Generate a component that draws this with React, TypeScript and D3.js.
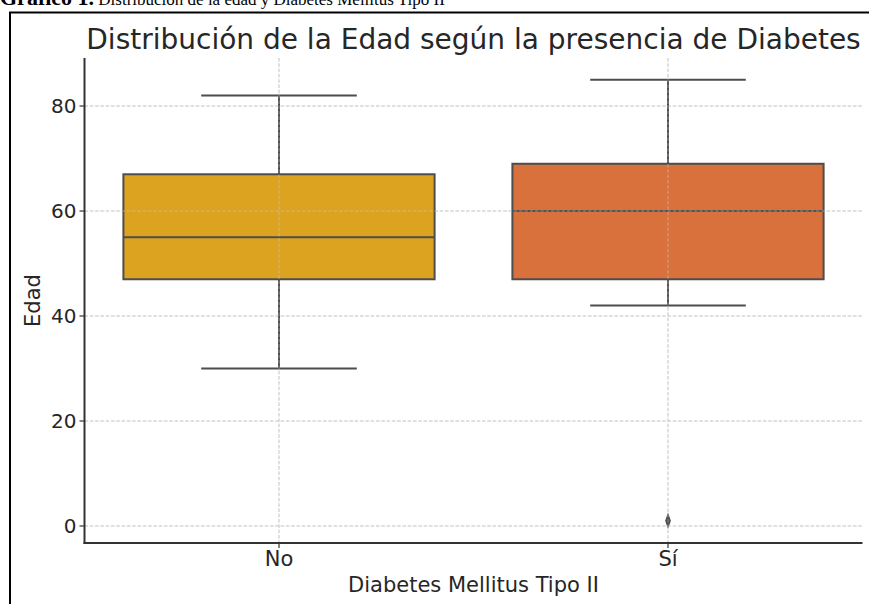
import React from "react";
import * as d3 from "d3";

const categories = ["No", "Sí"];
const whiskerLow = [30, 42];
const q1 = [47, 47];
const median = [55, 60];
const q3 = [67, 69];
const whiskerHigh = [82, 85];
const outliers = [[], [1]];
const boxColors = ["#dca321", "#d8713b"];
const yTicks = [0, 20, 40, 60, 80];

const W = 869;
const H = 604;
const M = { left: 84.5, right: 862.5, top: 58, bottom: 543 };
const LINE = "#4d4d4d";
const FONT = "DejaVu Sans, sans-serif";

export default function App() {
  const x = d3.scaleLinear().domain([-0.5, 1.5]).range([M.left, M.right]);
  const y = d3.scaleLinear().domain([-3.24, 89.15]).range([M.bottom, M.top]);
  const bw = (x(1) - x(0)) * 0.8;
  const cw = bw / 2;
  const diamond = d3.symbol().type(d3.symbolDiamond).size(50)();

  const grid = (k: string, op: number) => (
    <g stroke="#cccccc" strokeWidth={0.9} strokeDasharray="3.5,1.8" opacity={op}>
      {yTicks.map((t) => (
        <line key={k + "y" + t} x1={M.left} x2={M.right} y1={y(t)} y2={y(t)} />
      ))}
      {categories.map((c, i) => (
        <line key={k + "x" + c} x1={x(i)} x2={x(i)} y1={M.top} y2={M.bottom} />
      ))}
    </g>
  );

  return (
    <svg width={W} height={H} style={{ position: "absolute", left: 0, top: 0, background: "#fff" }}>
      <rect x={0} y={0} width={W} height={H} fill="#fff" />
      {/* caption */}
      <text x={0} y={5} fontFamily="Liberation Serif, Times New Roman, serif" fill="#000">
        <tspan fontWeight="bold" fontSize={22}>Gráfico 1.</tspan>
        <tspan fontSize={17}> Distribución de la edad y Diabetes Mellitus Tipo II</tspan>
      </text>
      {/* frame */}
      <path d={`M10,${H + 5} V12.5 H${W + 5}`} fill="none" stroke="#000" strokeWidth={2} />
      {grid("a", 1)}
      {/* boxes */}
      {categories.map((c, i) => (
        <g key={c} stroke={LINE} strokeWidth={2}>
          <line x1={x(i)} x2={x(i)} y1={y(q3[i])} y2={y(whiskerHigh[i])} />
          <line x1={x(i)} x2={x(i)} y1={y(q1[i])} y2={y(whiskerLow[i])} />
          <line x1={x(i) - cw / 2} x2={x(i) + cw / 2} y1={y(whiskerHigh[i])} y2={y(whiskerHigh[i])} />
          <line x1={x(i) - cw / 2} x2={x(i) + cw / 2} y1={y(whiskerLow[i])} y2={y(whiskerLow[i])} />
          <rect
            x={x(i) - bw / 2}
            y={y(q3[i])}
            width={bw}
            height={y(q1[i]) - y(q3[i])}
            fill={boxColors[i]}
          />
          <line x1={x(i) - bw / 2} x2={x(i) + bw / 2} y1={y(median[i])} y2={y(median[i])} />
          {outliers[i].map((o, k) => (
            <path
              key={k}
              d={diamond || ""}
              transform={`translate(${x(i)},${y(o)}) scale(0.75,1.25)`}
              fill={LINE}
              stroke="none"
            />
          ))}
        </g>
      ))}
      {grid("b", 0.6)}
      {/* axes */}
      <g stroke="#333" strokeWidth={2} fill="none">
        <line x1={M.left} x2={M.left} y1={M.top} y2={M.bottom + 1} />
        <line x1={M.left - 1} x2={M.right} y1={M.bottom} y2={M.bottom} />
      </g>
      <g fontFamily={FONT} fill="#262626">
        {yTicks.map((t) => (
          <g key={"yt" + t}>
            <line x1={M.left - 5} x2={M.left} y1={y(t)} y2={y(t)} stroke="#333" strokeWidth={1.2} />
            <text x={M.left - 8} y={y(t)} dy="0.36em" textAnchor="end" fontSize={20}>
              {t}
            </text>
          </g>
        ))}
        {categories.map((c, i) => (
          <g key={"xt" + c}>
            <line x1={x(i)} x2={x(i)} y1={M.bottom} y2={M.bottom + 5} stroke="#333" strokeWidth={1.2} />
            <text x={x(i)} y={M.bottom + 23} textAnchor="middle" fontSize={21}>
              {c}
            </text>
          </g>
        ))}
        <text x={(M.left + M.right) / 2} y={592} textAnchor="middle" fontSize={21}>
          Diabetes Mellitus Tipo II
        </text>
        <text transform={`translate(40,${(M.top + M.bottom) / 2}) rotate(-90)`} textAnchor="middle" fontSize={21}>
          Edad
        </text>
      </g>
      <text x={(M.left + M.right) / 2} y={49} textAnchor="middle" fontFamily={FONT} fontSize={28} fill="#262626">
        Distribución de la Edad según la presencia de Diabetes
      </text>
    </svg>
  );
}
